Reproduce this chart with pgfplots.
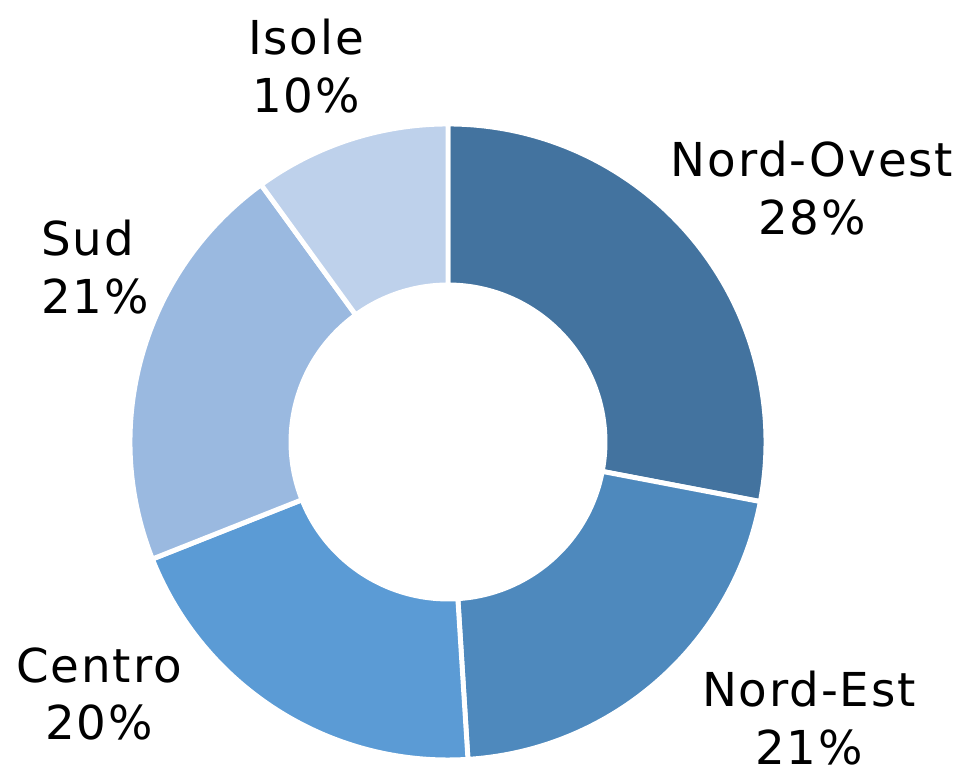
\documentclass[border=0pt]{standalone}
\usepackage{fontspec}
\setmainfont{DejaVu Sans}[LetterSpace=4]
\usepackage{pgfplots}
\pgfplotsset{compat=1.18}
\definecolor{cNO}{HTML}{43739F}
\definecolor{cNE}{HTML}{4E89BD}
\definecolor{cCE}{HTML}{5B9BD5}
\definecolor{cSU}{HTML}{9AB9E0}
\definecolor{cIS}{HTML}{BED1EB}
\tikzset{lbl/.style={font=\fontsize{13.3pt}{16.5pt}\selectfont, align=center, inner sep=0pt}}
\begin{document}
\begin{tikzpicture}
\begin{axis}[
    x=1cm, y=1cm,
    xmin=-4.48, xmax=5.15, ymin=-3.29, ymax=4.42,
    hide axis, clip=false,
]
\path (axis cs:-4.48,-3.29) rectangle (axis cs:5.15,4.42);
% share in percent / colour, clockwise from 12 o'clock
\xdef\cum{90}
\foreach \v/\c in {28/cNO,21/cNE,20/cCE,21/cSU,10/cIS}{
  \pgfmathsetmacro\a{\cum}
  \pgfmathsetmacro\b{\cum-3.6*\v}
  \pgfmathsetmacro\xa{3.18*cos(\a)}
  \pgfmathsetmacro\ya{3.18*sin(\a)}
  \pgfmathsetmacro\xb{1.57*cos(\b)}
  \pgfmathsetmacro\yb{1.57*sin(\b)}
  \edef\tmp{\noexpand\fill[\c, draw=white, line width=1.4pt]
    (axis cs:\xa,\ya) arc[start angle=\a, end angle=\b, radius=3.18cm]
    -- (axis cs:\xb,\yb) arc[start angle=\b, end angle=\a, radius=1.57cm] -- cycle;}
  \tmp
  \xdef\cum{\b}
}
\node[lbl] at (axis cs:-1.42,3.76) {Isole\\10\%};
\node[lbl] at (axis cs:3.64,2.54) {Nord-Ovest\\28\%};
\node[lbl, align=left] at (axis cs:-3.53,1.75) {Sud\\21\%};
\node[lbl] at (axis cs:-3.49,-2.52) {Centro\\20\%};
\node[lbl] at (axis cs:3.61,-2.76) {Nord-Est\\21\%};
\end{axis}
\end{tikzpicture}
\end{document}
